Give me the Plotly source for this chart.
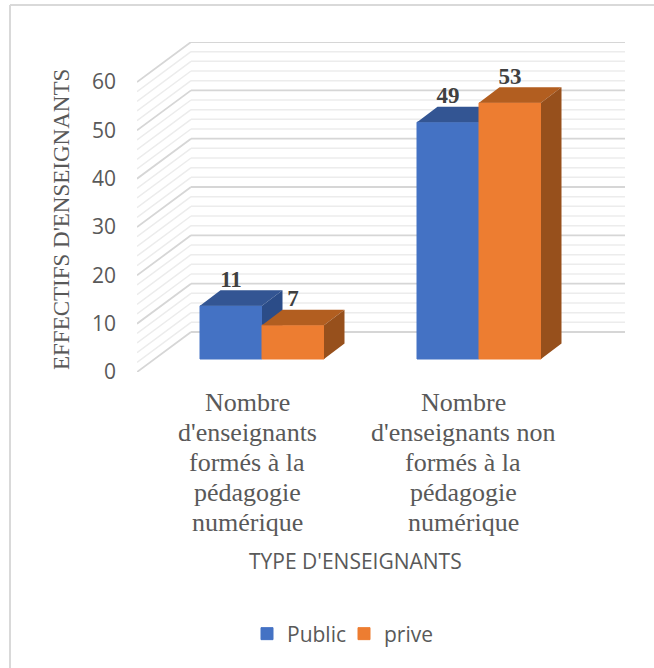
import plotly.graph_objects as go

categories = [
    ["Nombre", "d'enseignants", "formés à la", "pédagogie", "numérique"],
    ["Nombre", "d'enseignants non", "formés à la", "pédagogie", "numérique"],
]
public_values = [11, 49]
prive_values = [7, 53]
y_ticks = [0, 10, 20, 30, 40, 50, 60]
minor_ticks = [v for v in range(0, 61, 2) if v % 10]
positions = [0, 1]

W, H = 654, 668
L, R, T, B = 137, 625, 42, 372
X_UNIT, Y_UNIT = 217.0, 4.833
X0 = 262
xr = [(L - X0) / X_UNIT, (R - X0) / X_UNIT]
yr = [0, (B - T) / Y_UNIT]
BASE = (B - 359) / Y_UNIT
BAR_W = 62 / X_UNIT
BAR_DX, BAR_DY = 20.5 / X_UNIT, 15.5 / Y_UNIT
WALL_DX, WALL_DY = 54 / X_UNIT, 40 / Y_UNIT


def px(x):
    return (x - L) / (R - L)


def py(y):
    return (B - y) / (B - T)


def faces(values, offset):
    top_x, top_y, side_x, side_y = [], [], [], []
    for c, v in zip(positions, values):
        a, b = c + offset, c + offset + BAR_W
        t = BASE + v
        top_x += [a, b, b + BAR_DX, a + BAR_DX, a, None]
        top_y += [t, t, t + BAR_DY, t + BAR_DY, t, None]
        side_x += [b, b, b + BAR_DX, b + BAR_DX, b, None]
        side_y += [BASE, t, t + BAR_DY, BASE + BAR_DY, BASE, None]
    return top_x, top_y, side_x, side_y


def add_series(fig, name, values, offset, col, top_col, side_col, xa, ya):
    fig.add_trace(go.Bar(x=positions, y=values, base=BASE, name=name, width=BAR_W, offset=offset,
                         marker=dict(color=col, line=dict(width=1, color=col)), xaxis=xa, yaxis=ya,
                         hoverinfo="skip"))
    tx, ty, sx, sy = faces(values, offset)
    for fx, fy, c in ((tx, ty, top_col), (sx, sy, side_col)):
        fig.add_trace(go.Scatter(x=fx, y=fy, mode="lines", fill="toself", fillcolor=c,
                                 line=dict(width=0), showlegend=False, xaxis=xa, yaxis=ya,
                                 hoverinfo="skip"))
    fig.add_trace(go.Scatter(x=[c + offset + BAR_W / 2 for c in positions],
                             y=[BASE + v + 25 / Y_UNIT for v in values],
                             mode="text", text=[str(v) for v in values],
                             textposition="middle center",
                             textfont=dict(family="Liberation Serif", size=23, color="#404040", weight="bold"),
                             showlegend=False, xaxis=xa, yaxis=ya, hoverinfo="skip"))


fig = go.Figure()
add_series(fig, "Public", public_values, -BAR_W, "#4472C4", "#335593", "#2B4C88", "x", "y")
add_series(fig, "prive", prive_values, 0, "#ED7D31", "#B25E20", "#97501C", "x2", "y2")

shapes = []
for ticks, col, wd in ((minor_ticks, "#ECECEC", 1.5), (y_ticks, "#D6D6D6", 1.8)):
    for v in ticks:
        bx = xr[0] + WALL_DX
        for x0, y0, x1, y1 in ((xr[0], v, bx, v + WALL_DY), (bx, v + WALL_DY, xr[1], v + WALL_DY)):
            shapes.append(dict(type="line", xref="x", yref="y", x0=x0, y0=y0, x1=x1, y1=y1,
                               line=dict(color=col, width=wd), layer="below"))
# outer frame of the chart: top and left edges only
frame = dict(color="#D9D9D9", width=2)
shapes.append(dict(type="line", xref="paper", yref="paper", x0=px(10), y0=py(5), x1=px(W), y1=py(5), line=frame))
shapes.append(dict(type="line", xref="paper", yref="paper", x0=px(10), y0=py(5), x1=px(10), y1=py(H), line=frame))

annotations = []
label_font = dict(family="Liberation Serif", size=26, color="#595959")
for centre, lines in zip((247, 463), categories):
    for i, line in enumerate(lines):
        annotations.append(dict(text=line, xref="paper", yref="paper", x=px(centre), y=py(402.5 + 30 * i),
                                xanchor="center", yanchor="middle", showarrow=False, font=label_font))
annotations.append(dict(text="TYPE D'ENSEIGNANTS", xref="paper", yref="paper", x=px(355), y=py(561),
                        xanchor="center", yanchor="middle", showarrow=False,
                        font=dict(family="Open Sans", size=21, color="#595959")))
annotations.append(dict(text="EFFECTIFS D'ENSEIGNANTS", xref="paper", yref="paper", x=px(62), y=py(220),
                        xanchor="center", yanchor="middle", showarrow=False, textangle=-90,
                        font=dict(family="Liberation Serif", size=23, color="#595959")))

fig.update_layout(
    width=W, height=H, margin=dict(l=L, r=W - R, t=T, b=H - B, autoexpand=False),
    paper_bgcolor="white", plot_bgcolor="rgba(0,0,0,0)", barmode="overlay",
    showlegend=True,
    legend=dict(orientation="h", x=px(247), y=py(634), xanchor="left", yanchor="middle",
                font=dict(family="Open Sans", size=21, color="#595959"), bgcolor="rgba(0,0,0,0)",
                entrywidth=52, entrywidthmode="pixels",
                itemclick=False, itemdoubleclick=False),
    xaxis=dict(range=xr, visible=False, fixedrange=True),
    xaxis2=dict(range=xr, visible=False, overlaying="x", matches="x", fixedrange=True),
    yaxis=dict(range=yr, tickmode="array", tickvals=y_ticks, ticktext=[str(v) for v in y_ticks],
               showgrid=False, zeroline=False, showline=False, ticks="", ticklabelstandoff=20,
               tickfont=dict(family="Open Sans", size=21, color="#595959"), fixedrange=True),
    yaxis2=dict(range=yr, visible=False, overlaying="y", matches="y", fixedrange=True),
    shapes=shapes, annotations=annotations,
)

fig.write_html("out.html", config={"displayModeBar": False},
               post_script="document.body.style.margin='0';document.documentElement.style.overflow='hidden';")
